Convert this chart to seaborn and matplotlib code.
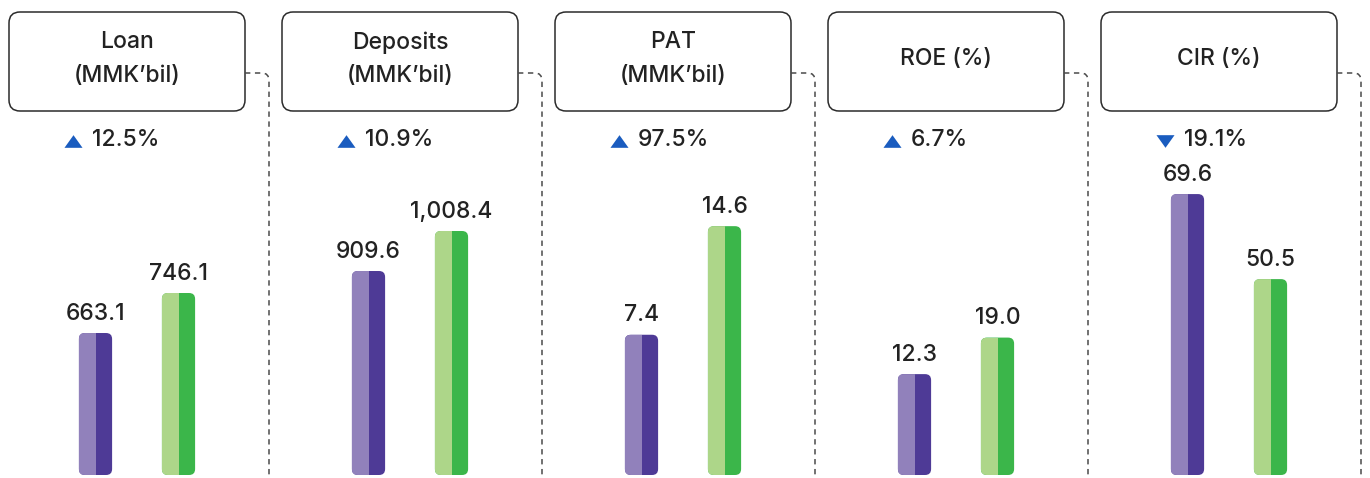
import numpy as np
import pandas as pd
import seaborn as sns
import matplotlib.pyplot as plt
from matplotlib.patches import FancyBboxPatch, Rectangle, PathPatch
from matplotlib.path import Path

# Data
metrics = ["Loan\n(MMK\u2019bil)", "Deposits\n(MMK\u2019bil)", "PAT\n(MMK\u2019bil)", "ROE (%)", "CIR (%)"]
periods = ["Prior year", "Current year"]
prior_values = [663.1, 909.6, 7.4, 12.3, 69.6]
current_values = [746.1, 1008.4, 14.6, 19.0, 50.5]
change_pct = [12.5, 10.9, 97.5, 6.7, -19.1]

# each panel has its own value axis (bars don't start at zero in the original)
y_floor = [368.5, 405.9, -1.9, -6.2, 6.5]
y_ceil = [1042.8, 1208.4, 19.65, 53.4, 79.5]

light = ["#9181bb", "#add689"]
dark = ["#4e3a96", "#3bb64a"]
text_color = "#222222"
arrow_blue = "#1a5cbf"

sns.set_style("white")
plt.rcParams["font.family"] = ["Inter", "DejaVu Sans"]
plt.rcParams["font.weight"] = 500

W, H = 1370, 478
fig = plt.figure(figsize=(W / 100, H / 100), dpi=100)

pitch = 273
ax_h = 325
for i in range(len(metrics)):
    c0 = 95.5 + pitch * i
    ax = fig.add_axes([(c0 - 83) / W, 3 / H, 249 / W, ax_h / H])
    df = pd.DataFrame({"period": periods, "value": [prior_values[i], current_values[i]]})
    sns.barplot(data=df, x="period", y="value", hue="period", palette=dark,
                width=0.4, ax=ax, legend=False)
    ax.set_xlim(-1, 2)
    ax.set_ylim(y_floor[i], y_ceil[i])
    ax.axis("off")

    aspect = 83 / (ax_h / (y_ceil[i] - y_floor[i]))
    for bar in list(ax.patches):
        x, w, top = bar.get_x(), bar.get_width(), bar.get_height()
        j = int(round(x + w / 2))
        base = y_floor[i]
        rp = FancyBboxPatch((x, base), w, top - base,
                            boxstyle=f"round,pad=0,rounding_size={6 / 83}",
                            mutation_aspect=aspect, fc=dark[j], ec="none", clip_on=False)
        ax.add_patch(rp)
        half = Rectangle((x, base), w / 2, top - base, fc=light[j], ec="none")
        ax.add_patch(half)
        half.set_clip_path(rp)
        bar.set_visible(False)
    for cont in ax.containers:
        ax.bar_label(cont, labels=[f"{b.get_height():,.1f}" for b in cont.patches],
                     padding=6, fontsize=16.5, color=text_color)

# overlay for title boxes, connectors and change indicators (pixel coordinates)
ov = fig.add_axes([0, 0, 1, 1])
ov.set_xlim(0, W)
ov.set_ylim(H, 0)
ov.axis("off")

tri_up = [(-1, -0.7), (1, -0.7), (0, 0.7), (-1, -0.7)]
tri_down = [(-1, 0.7), (1, 0.7), (0, -0.7), (-1, 0.7)]

for i, m in enumerate(metrics):
    bl = 9 + pitch * i
    ov.add_patch(FancyBboxPatch((bl, 12), 236, 99, boxstyle="round,pad=0,rounding_size=11",
                                fc="white", ec="#2b2b2b", lw=1.1))
    ov.text(bl + 118, 59, m, ha="center", va="center", fontsize=16.5,
            color=text_color, linespacing=1.65)
    verts = [(bl + 236, 73), (bl + 253, 73), (bl + 260, 73), (bl + 260, 81), (bl + 260, H)]
    codes = [Path.MOVETO, Path.LINETO, Path.CURVE3, Path.CURVE3, Path.LINETO]
    ov.add_patch(PathPatch(Path(verts, codes), fc="none", ec="#4a4a4a", lw=1.1,
                           ls=(0, (3.5, 3))))
    p = change_pct[i]
    ov.plot(bl + 64, 141, marker=tri_up if p >= 0 else tri_down, ms=13,
            color=arrow_blue, mec="none")
    ov.text(bl + 83, 140, f"{abs(p):.1f}%", ha="left", va="center", fontsize=16.5,
            color=text_color)

fig.savefig("out.png", dpi=100)
